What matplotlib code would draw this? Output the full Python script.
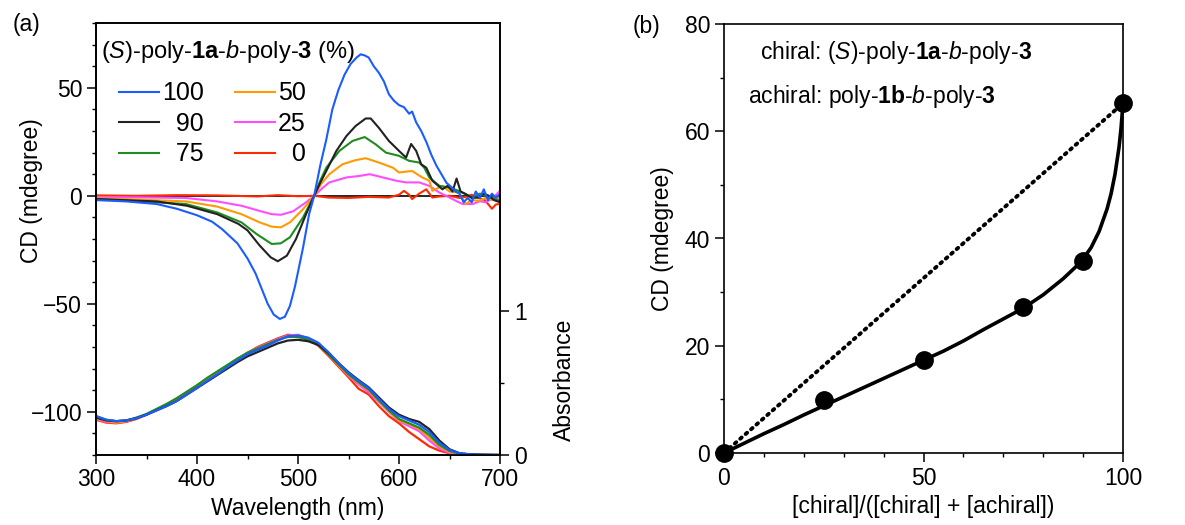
import numpy as np
import matplotlib
matplotlib.use("Agg")
import matplotlib.pyplot as plt
from matplotlib.ticker import MultipleLocator, FixedLocator

plt.rcParams['font.family'] = ['Liberation Sans', 'DejaVu Sans']
plt.rcParams['mathtext.fontset'] = 'custom'
plt.rcParams['mathtext.rm'] = 'Liberation Sans'
plt.rcParams['mathtext.it'] = 'Liberation Sans:italic'
plt.rcParams['mathtext.bf'] = 'Liberation Sans:bold'

# ---------------- Panel (a) data: CD spectra ----------------
wl_100 = [300, 330, 360, 380, 400, 415, 425, 440, 450, 458, 464, 470, 476, 482, 487, 492, 497, 505, 511, 516,
          522, 528, 534, 540, 546, 552, 558, 562, 566, 570, 575, 580, 585, 590, 595, 600, 605, 610,
          613, 617, 622, 627, 632, 637, 642, 647, 652, 656, 660, 664, 668, 672, 676, 680, 684, 688,
          692, 696, 700]
cd_100 = [-2, -2.6, -3.8, -6, -9, -12, -15.5, -22, -29, -36, -43, -50, -55, -57, -56, -51, -42, -24, -8.5, 0,
          14, 26, 40, 49, 56, 61, 64, 65.5, 65, 64, 60, 57, 53, 47, 44, 42, 41, 38,
          39, 34, 30, 25, 19, 14, 10, 6, 4, 2, 1, -3, -1, -3, 2, -1, 3, -2,
          1, -1, 1]

wl_90 = [300, 360, 390, 420, 441, 450, 462, 473, 480, 489, 498, 508, 516, 522, 528, 538, 548, 557,
         567, 572, 580, 590, 600, 607, 612, 617, 622, 627, 633, 638, 643, 648, 653, 657, 661, 666,
         672, 679, 684, 689, 694, 700]
cd_90 = [-1.5, -2.6, -4.6, -8.5, -13, -16, -23, -28.5, -30.3, -27.7, -20, -8.5, 0, 6, 11.5, 20.8, 27.7, 32.3,
         35.8, 35.8, 31.5, 25.4, 20.8, 17.7, 24, 20.8, 14.6, 13, 7, 5, 3, 4.6, 2, 8, 2, 0.8,
         -1, -0.8, 1, 0, -2, -3]

wl_75 = [300, 389, 420, 444, 459, 474, 483, 492, 505, 516, 522, 528, 541, 554, 566, 577, 587, 600,
         610, 620, 625, 630, 640, 650, 659, 665, 673, 680, 686, 692, 700]
cd_75 = [-1.5, -3.8, -7.7, -12.3, -17.7, -22.3, -22, -19.2, -10, 0, 7, 13, 20.8, 25.4, 27.2, 23.8, 20, 18.5,
         16.2, 15.4, 13, 8.5, 4.6, 3.8, 2.3, 1, -0.8, 1, 0, -1, -2.3]

wl_50 = [300, 389, 420, 444, 462, 474, 483, 492, 505, 516, 523, 531, 544, 557, 567, 580, 594, 600,
         613, 623, 630, 633, 643, 650, 659, 666, 672, 679, 686, 692, 700]
cd_50 = [-1, -2.6, -5, -8.5, -12.3, -14.3, -14.6, -12.3, -6.2, 0, 5.5, 10, 14.6, 16.5, 17.4, 15.4, 13, 10.8,
         11.5, 8.5, 7, 2.3, 4.6, 2, 1.5, -3.8, -2, -2.3, -1, -2, -0.8]

wl_25 = [300, 389, 420, 444, 462, 474, 483, 495, 508, 516, 524, 531, 548, 561, 571, 584, 597, 607,
         620, 630, 640, 650, 657, 663, 673, 680, 686, 693, 700]
cd_25 = [-0.5, -1, -2.6, -4.6, -7, -8.5, -8.8, -7.2, -3, 0, 3.5, 6.2, 8.5, 9.2, 10, 8.5, 7, 6.2,
         6.2, 4.6, 1.5, -0.8, -2.5, -3.8, -3.8, -2.5, -3, -1, 2.3]

wl_0 = [300, 340, 380, 420, 460, 480, 500, 516, 530, 550, 570, 590, 600, 605, 610, 613, 620, 627,
        633, 640, 650, 660, 666, 672, 679, 685, 692, 696, 700]
cd_0 = [0.2, 0, 0.3, 0.2, -0.3, 0.3, -0.2, 0, -0.8, -1, -0.5, -0.8, 0.5, 2.3, 0.5, -1.5, 1, 3,
        -0.8, -0.3, 0, -1, -0.5, 0.5, -1, -2, -6, -4, -3.8]

# ---------------- Panel (a) data: absorbance ----------------
wl_abs = [300, 310, 320, 330, 340, 350, 360, 370, 380, 390, 400, 410, 420, 430, 440, 450, 460, 470,
          480, 490, 500, 510, 520, 530, 540, 550, 560, 570, 580, 590, 600, 610, 620, 630, 640, 650,
          660, 670, 680, 690, 700]
abs_100 = [.27, .245, .235, .24, .255, .28, .31, .34, .375, .42, .465, .515, .56, .61, .655, .70, .73, .76,
           .795, .825, .83, .815, .78, .715, .64, .57, .515, .465, .39, .32, .27, .24, .21, .16, .085, .035,
           .012, .005, .002, .001, 0]
abs_90 = [.26, .24, .235, .24, .255, .28, .31, .34, .375, .42, .465, .51, .555, .60, .645, .685, .715, .745,
          .775, .795, .80, .79, .765, .71, .64, .575, .52, .47, .40, .33, .28, .25, .23, .18, .10, .04,
          .012, .005, .002, .001, 0]
abs_75 = [.27, .245, .235, .24, .26, .285, .32, .355, .395, .44, .485, .535, .58, .625, .67, .71, .74, .77,
          .80, .82, .82, .80, .765, .70, .63, .56, .505, .455, .38, .31, .25, .22, .19, .14, .07, .028,
          .01, .004, .002, .001, 0]
abs_50 = [.255, .235, .225, .235, .255, .28, .315, .35, .39, .435, .48, .53, .575, .62, .665, .705, .74, .77,
          .80, .825, .83, .81, .77, .70, .625, .555, .50, .45, .375, .305, .24, .215, .18, .12, .06, .022,
          .008, .003, .001, 0, 0]
abs_25 = [.25, .23, .225, .235, .255, .28, .315, .35, .39, .435, .48, .53, .575, .62, .665, .71, .745, .775,
          .805, .83, .835, .81, .77, .70, .625, .55, .49, .435, .37, .30, .235, .20, .165, .10, .045, .015,
          .005, .002, .001, 0, 0]
abs_0 = [.245, .225, .22, .23, .25, .28, .315, .35, .39, .435, .48, .53, .575, .62, .665, .71, .75, .78,
         .81, .835, .83, .80, .76, .69, .615, .54, .46, .42, .34, .27, .22, .16, .11, .06, .03, .012,
         .004, .001, 0, 0, 0]

labels_a = ['100', '90', '75', '50', '25', '0']
colors_a = ['#1a5cff', '#222222', '#1f8c1f', '#ff9a00', '#ff4dff', '#ff2a00']

# ---------------- Panel (b) data ----------------
frac_pts = [0, 25, 50, 75, 90, 100]
cd_pts = [0, 9.8, 17.4, 27.2, 35.8, 65.2]
frac_fit = [0, 5, 10, 15, 20, 25, 30, 35, 40, 45, 50, 55, 60, 65, 70, 75, 80, 85, 88, 90,
            92, 94, 96, 97, 98, 99, 99.5, 100]
cd_fit = [0, 1.8, 3.6, 5.3, 7.1, 8.8, 10.5, 12.2, 13.9, 15.6, 17.3, 19.0, 20.9, 23.0, 25.0, 27.0,
          29.5, 32.5, 34.6, 36.2, 38.3, 41.3, 45.5, 48.3, 52.0, 57.0, 60.5, 65.2]

FS = 16.5

fig = plt.figure(figsize=(11.85, 5.25), dpi=100)

# ---------------- Panel (a) ----------------
ax = fig.add_axes([96/1185, 1-455/525, 404/1185, 432/525])
ax2 = ax.twinx()

cd_series = [(wl_100, cd_100), (wl_90, cd_90), (wl_75, cd_75), (wl_50, cd_50), (wl_25, cd_25), (wl_0, cd_0)]
abs_series = [abs_100, abs_90, abs_75, abs_50, abs_25, abs_0]

ax.axhline(0, color='black', lw=1.2, zorder=1)
handles = []
for (w, c), col, lab in list(zip(cd_series, colors_a, labels_a))[::-1]:
    h, = ax.plot(w, c, color=col, lw=1.5, label=lab, zorder=2)
    handles.append(h)
handles = handles[::-1]

for a, col in list(zip(abs_series, colors_a))[::-1]:
    ax2.plot(wl_abs, a, color=col, lw=1.6)

ax.set_xlim(300, 700)
ax.set_ylim(-120, 80)
ax2.set_ylim(0, 3)
ax.xaxis.set_major_locator(MultipleLocator(100))
ax.xaxis.set_minor_locator(MultipleLocator(50))
ax.yaxis.set_major_locator(FixedLocator([-100, -50, 0, 50]))
ax.yaxis.set_minor_locator(MultipleLocator(10))
ax2.yaxis.set_major_locator(FixedLocator([0, 1]))
ax2.yaxis.set_minor_locator(FixedLocator([0.5]))

for a_ in (ax, ax2):
    a_.tick_params(which='major', direction='out', length=6.5, width=1.1, labelsize=FS)
    a_.tick_params(which='minor', direction='out', length=3.2, width=1.0)
    for s in a_.spines.values():
        s.set_linewidth(1.2)
ax.tick_params(axis='x', pad=3)

ax.set_xlabel('Wavelength (nm)', fontsize=FS, labelpad=4)
ax.set_ylabel('CD (mdegree)', fontsize=FS)
ax.yaxis.set_label_coords(-0.13, 0.613)
ax2.set_ylabel('Absorbance', fontsize=FS, rotation=90)
ax2.yaxis.set_label_coords(1.13, 0.174)

ax.text(0.012, 0.965, r'($\mathit{S}$)-poly-$\mathbf{1a}$-$\mathit{b}$-poly-$\mathbf{3}$ (%)',
        transform=ax.transAxes, fontsize=17, va='top', ha='left')

pad = '\u2007'
leg_labels = ['100', pad + '90', pad + '75', '50', '25', pad + '0']
leg = ax.legend(handles, leg_labels, ncol=2, loc='upper left', bbox_to_anchor=(0.058, 0.865),
                frameon=False, fontsize=18, handlelength=1.6, handletextpad=0.1,
                columnspacing=1.25, labelspacing=0.26, borderaxespad=0, borderpad=0)

fig.text(26/1185, 1-25/525, '(a)', fontsize=FS, ha='center', va='center')

# ---------------- Panel (b) ----------------
bx = fig.add_axes([724/1185, 1-453/525, 399/1185, 429/525])
bx.plot([frac_pts[0], frac_pts[-1]], [cd_pts[0], cd_pts[-1]], color='black', lw=2.8,
        linestyle=(0, (0.5, 1.35)), dash_capstyle='round', clip_on=False)
bx.plot(frac_fit, cd_fit, color='black', lw=2.6, solid_capstyle='round', clip_on=False)
bx.plot(frac_pts, cd_pts, 'o', color='black', markersize=12.5, clip_on=False, zorder=5)

bx.set_xlim(0, 100)
bx.set_ylim(0, 80)
bx.xaxis.set_major_locator(MultipleLocator(50))
bx.xaxis.set_minor_locator(MultipleLocator(10))
bx.yaxis.set_major_locator(MultipleLocator(20))
bx.yaxis.set_minor_locator(MultipleLocator(10))
bx.tick_params(which='major', direction='out', length=6.5, width=1.1, labelsize=FS)
bx.tick_params(which='minor', direction='out', length=3.2, width=1.0)
for s in bx.spines.values():
    s.set_linewidth(1.2)
bx.set_xlabel('[chiral]/([chiral] + [achiral])', fontsize=FS, labelpad=4)
bx.set_ylabel('CD (mdegree)', fontsize=FS, labelpad=8)

bx.text((760-724)/399, 1-(53-24)/429, r'chiral: ($\mathit{S}$)-poly-$\mathbf{1a}$-$\mathit{b}$-poly-$\mathbf{3}$',
        transform=bx.transAxes, fontsize=FS, ha='left', va='center')
bx.text((748-724)/399, 1-(97-24)/429, r'achiral: poly-$\mathbf{1b}$-$\mathit{b}$-poly-$\mathbf{3}$',
        transform=bx.transAxes, fontsize=FS, ha='left', va='center')

fig.text(646/1185, 1-27/525, '(b)', fontsize=FS, ha='center', va='center')

fig.savefig('out.png', dpi=100)
